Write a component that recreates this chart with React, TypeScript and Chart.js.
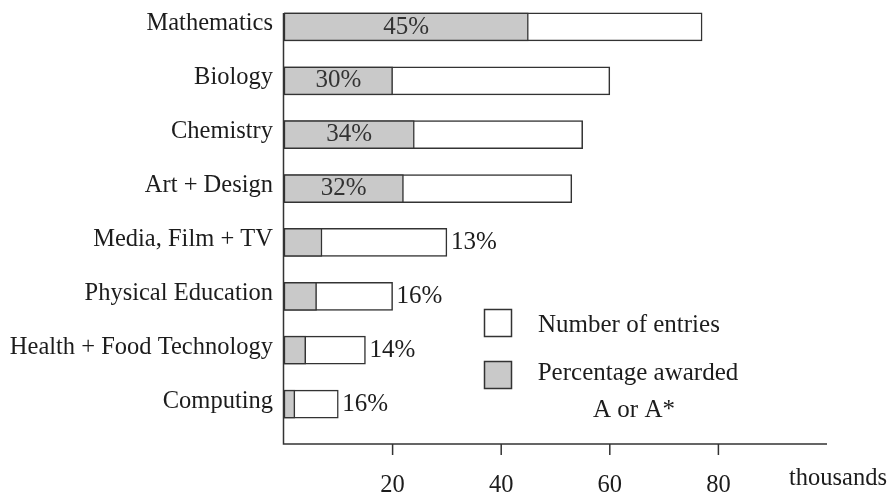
import React, { useEffect, useRef } from "react";
import { Chart, registerables } from "chart.js";

Chart.register(...registerables);

const categories = [
  "Mathematics",
  "Biology",
  "Chemistry",
  "Art + Design",
  "Media, Film + TV",
  "Physical Education",
  "Health + Food Technology",
  "Computing",
];
const entries = [77, 60, 55, 53, 30, 20, 15, 10];
const awarded = [45, 20, 24, 22, 7, 6, 4, 2];
const percentLabels = ["45%", "30%", "34%", "32%", "13%", "16%", "14%", "16%"];
const xTickValues = [20, 40, 60, 80];
const xMax = 100;
const unitLabel = "thousands";
const legendEntries = "Number of entries";
const legendAwarded = ["Percentage awarded", "A or A*"];

const FONT = "'Liberation Serif', 'Times New Roman', Times, serif";
const FS = 25;
const FS_AXIS = 24.5;
const GREY = "#c9c9c9";
const LINE = "#333333";
const TEXT = "#1c1c1c";

const overlayPlugin = {
  id: "overlay",
  afterDatasetsDraw(chart: any) {
    const ctx = chart.ctx;
    const xs = chart.scales.x;
    const area = chart.chartArea;
    const axisY = area.bottom + 13;
    const whiteMeta = chart.getDatasetMeta(0);
    const greyMeta = chart.getDatasetMeta(1);
    ctx.save();
    ctx.strokeStyle = LINE;
    ctx.lineWidth = 1.5;
    const x0 = xs.getPixelForValue(0) - 0.5;
    const firstBar = whiteMeta.data[0];
    const top = firstBar.y - firstBar.height / 2;
    ctx.beginPath();
    ctx.moveTo(x0, top);
    ctx.lineTo(x0, axisY);
    ctx.lineTo(xs.getPixelForValue(xMax), axisY);
    ctx.stroke();
    xTickValues.forEach((v) => {
      const px = xs.getPixelForValue(v);
      ctx.beginPath();
      ctx.moveTo(px, axisY);
      ctx.lineTo(px, axisY + 11);
      ctx.stroke();
    });

    // percentage labels
    ctx.font = `${FS}px ${FONT}`;
    ctx.textBaseline = "middle";
    percentLabels.forEach((lab, i) => {
      const g = greyMeta.data[i];
      const w = whiteMeta.data[i];
      const tw = ctx.measureText(lab).width;
      if (g.x - g.base > tw + 16) {
        ctx.fillStyle = "#333333";
        ctx.textAlign = "center";
        ctx.fillText(lab, (g.x + g.base) / 2, g.y);
      } else {
        ctx.fillStyle = TEXT;
        ctx.textAlign = "left";
        ctx.fillText(lab, w.x + 4, w.y);
      }
    });

    // unit label
    ctx.font = `${FS_AXIS}px ${FONT}`;
    ctx.textAlign = "left";
    ctx.textBaseline = "alphabetic";
    ctx.fillStyle = TEXT;
    ctx.fillText(unitLabel, 789, 485);

    // legend
    ctx.font = `${FS}px ${FONT}`;
    ctx.fillStyle = "#ffffff";
    ctx.fillRect(484.5, 309.5, 27, 27);
    ctx.strokeRect(484.5, 309.5, 27, 27);
    ctx.fillStyle = GREY;
    ctx.fillRect(484.5, 361.5, 27, 27);
    ctx.strokeRect(484.5, 361.5, 27, 27);
    ctx.fillStyle = TEXT;
    ctx.textAlign = "left";
    ctx.fillText(legendEntries, 538, 332);
    ctx.textAlign = "center";
    ctx.fillText(legendAwarded[0], 638, 380);
    ctx.fillText(legendAwarded[1], 634, 417);
    ctx.restore();
  },
};

export default function App() {
  const ref = useRef<HTMLCanvasElement | null>(null);
  useEffect(() => {
    if (!ref.current) return;
    const chart = new Chart(ref.current, {
      type: "bar",
      data: {
        labels: categories,
        datasets: [
          {
            label: legendEntries,
            data: entries,
            backgroundColor: "#ffffff",
            borderColor: LINE,
            borderWidth: 1.5,
            borderSkipped: false,
            barThickness: 28,
            grouped: false,
            order: 1,
          },
          {
            label: legendAwarded.join(" "),
            data: awarded,
            backgroundColor: GREY,
            borderColor: LINE,
            borderWidth: 1.5,
            borderSkipped: false,
            barThickness: 28,
            grouped: false,
            order: 0,
          },
        ],
      },
      options: {
        indexAxis: "y",
        responsive: false,
        animation: false,
        layout: { padding: { top: -1.5, right: 62, bottom: 0, left: 0 } },
        plugins: {
          legend: { display: false },
          tooltip: { enabled: false },
        },
        scales: {
          x: {
            type: "linear",
            min: 0,
            max: xMax,
            grid: { display: false, drawTicks: false },
            border: { display: false },
            ticks: {
              stepSize: 20,
              padding: 40,
              color: TEXT,
              font: { family: FONT, size: FS_AXIS },
              callback: (v: any) => (xTickValues.includes(Number(v)) ? String(v) : ""),
            },
            afterFit: (s: any) => {
              s.height = 63;
              s.paddingLeft = 0;
              s.paddingRight = 0;
            },
          },
          y: {
            type: "category",
            grid: { display: false, drawTicks: false },
            border: { display: false },
            ticks: {
              padding: 11,
              labelOffset: -3,
              color: TEXT,
              font: { family: FONT, size: FS_AXIS },
            },
            afterFit: (s: any) => {
              s.width = 284;
              s.paddingTop = 0;
              s.paddingBottom = 0;
            },
          },
        },
      },
      plugins: [overlayPlugin],
    } as any);
    return () => chart.destroy();
  }, []);
  return (
    <div style={{ position: "absolute", left: 0, top: 0, width: 889, height: 494, background: "#fff" }}>
      <canvas ref={ref} width={889} height={494} style={{ display: "block" }} />
    </div>
  );
}
